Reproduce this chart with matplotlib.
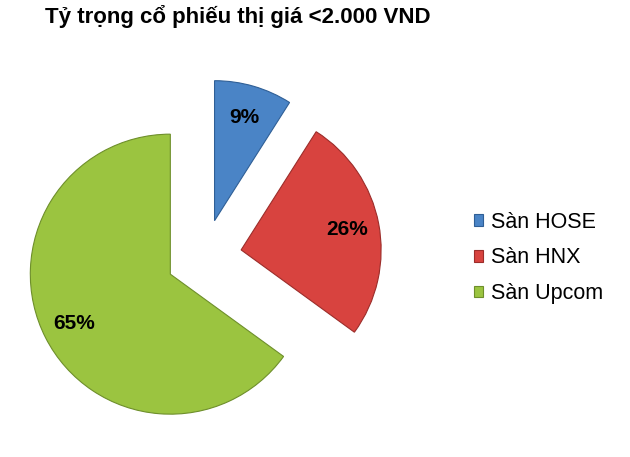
import matplotlib
matplotlib.use("Agg")
import matplotlib.pyplot as plt

names = ["Sàn HOSE", "Sàn HNX", "Sàn Upcom"]
shares = [9, 26, 65]
colors = ["#4a84c6", "#d8433f", "#9bc440"]
edges = ["#2f5f96", "#9c2d2a", "#6e8f2b"]
title = "Tỷ trọng cổ phiếu thị giá <2.000 VND"

plt.rcParams["font.family"] = ["Liberation Sans", "DejaVu Sans"]

fig = plt.figure(figsize=(6.3, 4.57), dpi=100)
# pie centre ~ (204, 257) px, radius ~140 px
ax = fig.add_axes([22 / 630, 18 / 457, 364 / 630, 364 / 457])
wedges, texts, autotexts = ax.pie(
    shares, colors=colors, startangle=90, counterclock=False,
    explode=[0.27] * 3, autopct="%d%%", pctdistance=0.77,
    textprops=dict(fontsize=15, fontweight="bold", color="black"))
for w, e in zip(wedges, edges):
    w.set_edgecolor(e)
    w.set_linewidth(0.8)
ax.set_xlim(-1.3, 1.3)
ax.set_ylim(-1.3, 1.3)
ax.set_aspect("equal")
ax.axis("off")

fig.text(45 / 630, 1 - 5 / 457, title, fontsize=16, fontweight="bold",
         ha="left", va="top")

fig.legend(wedges, names, loc="upper left", bbox_to_anchor=(463 / 630, 1 - 201 / 457),
           frameon=False, fontsize=15.5, handlelength=0.45, handleheight=0.45,
           handletextpad=0.35, labelspacing=0.68, borderpad=0)

fig.savefig("out.png", dpi=100)
